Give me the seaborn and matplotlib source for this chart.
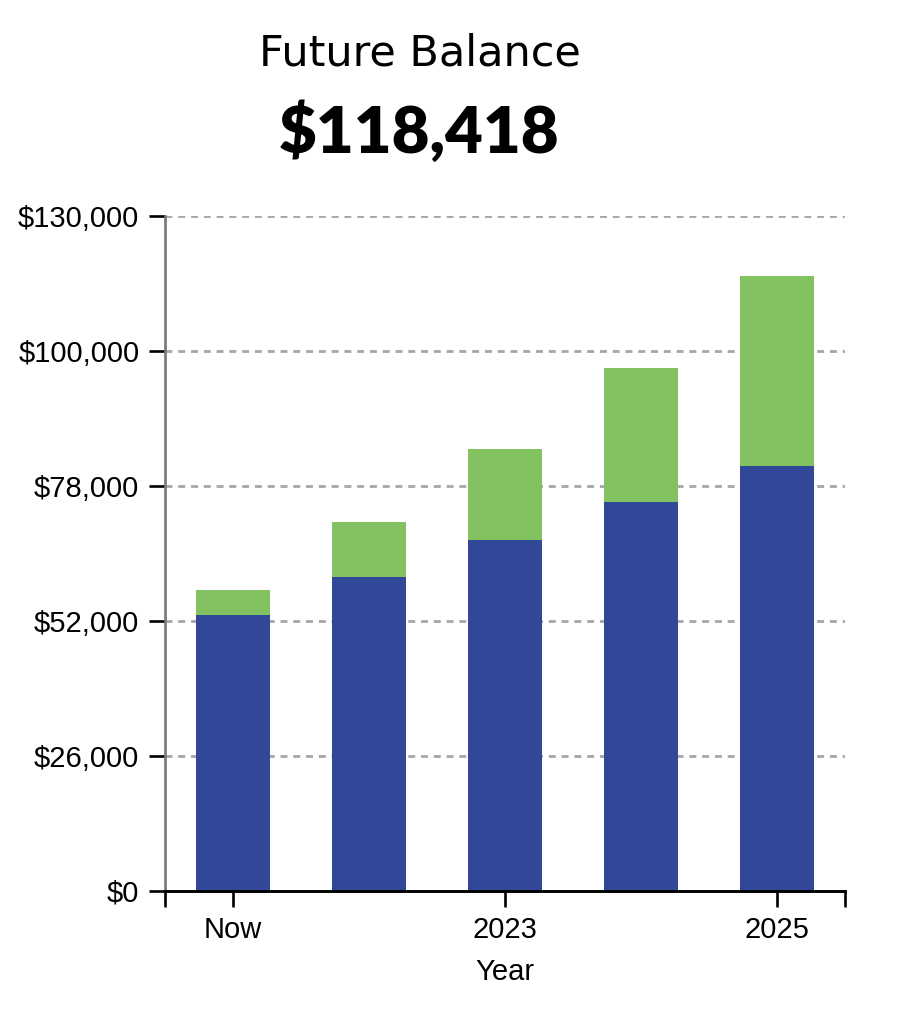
import matplotlib
matplotlib.use("Agg")
import matplotlib.pyplot as plt
import seaborn as sns
import numpy as np

# ---- data ----
categories = ["Now", "2022", "2023", "2024", "2025"]
contributions = [53100, 60400, 67600, 74800, 81900]
growth = [4800, 10600, 17600, 26000, 36518]
ytick_values = [0, 26000, 52000, 78000, 104000, 130000]
ytick_labels = ["$0", "$26,000", "$52,000", "$78,000", "$100,000", "$130,000"]
title_text = "Future Balance"
total_text = "$118,418"
xlabel_text = "Year"

BLUE = "#314899"
GREEN = "#83c261"

sns.set_theme(style="white")
plt.rcParams["font.family"] = ["Liberation Sans", "DejaVu Sans"]

fig = plt.figure(figsize=(9.08, 10.24), dpi=100)
ax = fig.add_axes([165 / 908, 1 - 890.7 / 1024, (845 - 165) / 908, (890.7 - 216) / 1024])

totals = [c + g for c, g in zip(contributions, growth)]
sns.barplot(x=categories, y=totals, order=categories, color=GREEN, saturation=1,
            width=0.55, linewidth=0, ax=ax)
sns.barplot(x=categories, y=contributions, order=categories, color=BLUE, saturation=1,
            width=0.55, linewidth=0, ax=ax)

ax.set_xlim(-0.5, 4.5)
ax.set_ylim(0, 130000)

# y axis
ax.set_yticks(ytick_values)
ax.set_yticklabels(ytick_labels, fontsize=21, color="black")
ax.tick_params(axis="y", which="major", left=True, length=11.5, width=1.9,
               color="black", pad=7)
yt = ax.yaxis.get_major_ticks()
for i in (0, len(yt) - 1):
    yt[i].tick1line.set_color("#777777")

# x axis: end ticks (domain) + every other category label
xpos = [-0.5] + [i for i in range(len(categories)) if i % 2 == 0] + [4.5]
xlab = [""] + [categories[i] for i in range(len(categories)) if i % 2 == 0] + [""]
ax.set_xticks(xpos)
ax.set_xticklabels(xlab, fontsize=21, color="black")
ax.tick_params(axis="x", which="major", bottom=True, length=11.5, width=1.9,
               color="black", pad=7)
ax.set_xlabel(xlabel_text, fontsize=21, color="black", labelpad=10)
ax.set_ylabel("")

# grid
ax.set_axisbelow(True)
ax.yaxis.grid(True, color="#a6a6a6", linewidth=2.0, linestyle=(0, (2.5, 2.1)))
ax.xaxis.grid(False)

for s in ("top", "right"):
    ax.spines[s].set_visible(False)
ax.spines["left"].set_color("#777777")
ax.spines["left"].set_linewidth(1.9)
ax.spines["bottom"].set_color("black")
ax.spines["bottom"].set_linewidth(2.1)
ax.spines["bottom"].set_zorder(5)

fig.text(420 / 908, 1 - 54 / 1024, title_text, ha="center", va="center",
         fontsize=31, family=["DejaVu Sans"], color="black")
fig.text(419 / 908, 1 - 133 / 1024, total_text, ha="center", va="center",
         fontsize=47, family=["Lato", "DejaVu Sans"], fontweight="heavy", color="black")

fig.savefig("out.png", dpi=100, facecolor="white")
